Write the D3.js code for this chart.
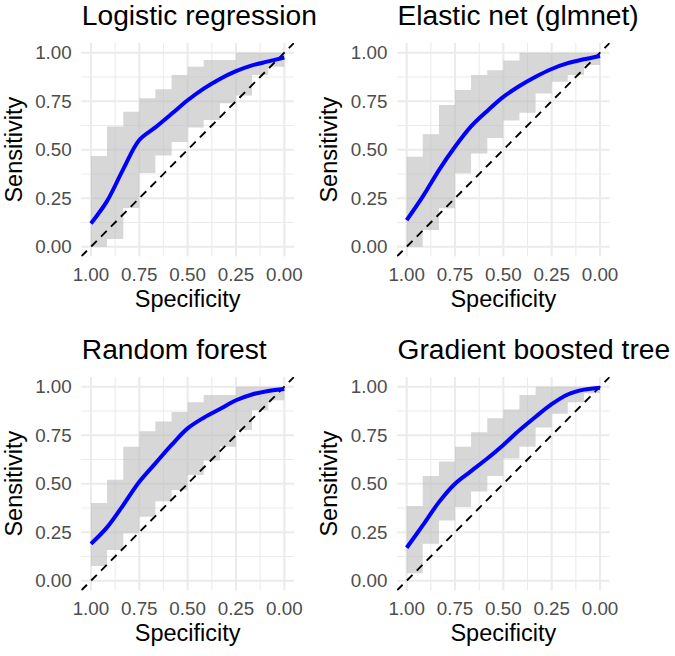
<!DOCTYPE html>
<html>
<head>
<meta charset="utf-8">
<script src="https://cdn.jsdelivr.net/npm/d3@7"></script>
<style>
  html, body { margin: 0; padding: 0; background: #fff; }
  svg { display: block; font-family: "Liberation Sans", Arial, Helvetica, sans-serif; }
</style>
</head>
<body>
<svg id="chart" width="675" height="656"></svg>
<script>
// ---- data ----
const models = ["Logistic regression", "Elastic net (glmnet)", "Random forest", "Gradient boosted tree"];
const specSteps = [1, 0.917, 0.833, 0.75, 0.667, 0.583, 0.5, 0.417, 0.333, 0.25, 0.167, 0.083, 0];
const tickValues = [1, 0.75, 0.5, 0.25, 0];
const tickLabels = ["1.00", "0.75", "0.50", "0.25", "0.00"];
const minorTicks = [0.125, 0.375, 0.625, 0.875];

// CI ribbon (per specificity interval) and smoothed ROC sensitivity
const lrUpper = [0.467, 0.619, 0.696, 0.765, 0.811, 0.885, 0.928, 0.962, 0.962, 1, 1, 1];
const lrLower = [0.00, 0.04, 0.20, 0.38, 0.47, 0.54, 0.615, 0.653, 0.739, 0.78, 0.885, 0.928];
const lrSens  = [0.12, 0.235, 0.40, 0.55, 0.615, 0.685, 0.755, 0.815, 0.865, 0.905, 0.935, 0.955, 0.975];

const enUpper = [0.464, 0.579, 0.730, 0.808, 0.885, 0.91, 0.96, 1, 1, 1, 1, 1];
const enLower = [0.00, 0.086, 0.198, 0.378, 0.48, 0.56, 0.65, 0.69, 0.79, 0.85, 0.885, 0.936];
const enSens  = [0.137, 0.258, 0.395, 0.515, 0.62, 0.70, 0.772, 0.828, 0.876, 0.916, 0.946, 0.966, 0.983];

const rfUpper = [0.40, 0.52, 0.69, 0.77, 0.82, 0.87, 0.92, 0.957, 0.957, 1, 1, 1];
const rfLower = [0.076, 0.158, 0.244, 0.33, 0.41, 0.467, 0.545, 0.62, 0.69, 0.777, 0.88, 0.93];
const rfSens  = [0.19, 0.275, 0.39, 0.51, 0.605, 0.70, 0.785, 0.84, 0.885, 0.93, 0.96, 0.978, 0.988];

const gbUpper = [0.385, 0.54, 0.614, 0.691, 0.765, 0.837, 0.883, 0.957, 1, 1, 1, 1];
const gbLower = [0.038, 0.19, 0.31, 0.38, 0.46, 0.54, 0.63, 0.69, 0.79, 0.86, 0.92, 0.966];
const gbSens  = [0.17, 0.285, 0.405, 0.50, 0.565, 0.63, 0.70, 0.775, 0.845, 0.91, 0.96, 0.985, 0.995];

const uppers = [lrUpper, enUpper, rfUpper, gbUpper];
const lowers = [lrLower, enLower, rfLower, gbLower];
const senses = [lrSens, enSens, rfSens, gbSens];

// ---- layout ----
const svg = d3.select("#chart");
const colLeft = [81.3, 397];
const rowTop = [43, 377];
const pw = 212.7, ph = 213.4;
const gridColor = "#EBEBEB";

models.forEach((name, i) => {
  const left = colLeft[i % 2], top = rowTop[Math.floor(i / 2)];
  const x = d3.scaleLinear().domain([1.05, -0.05]).range([left, left + pw]);
  const y = d3.scaleLinear().domain([-0.05, 1.05]).range([top + ph, top]);
  const g = svg.append("g");

  const clipId = "clip" + i;
  svg.append("clipPath").attr("id", clipId)
    .append("rect").attr("x", left).attr("y", top).attr("width", pw).attr("height", ph);

  // grid
  const grid = g.append("g");
  minorTicks.forEach(v => {
    grid.append("line").attr("x1", x(v)).attr("x2", x(v)).attr("y1", top).attr("y2", top + ph)
      .attr("stroke", gridColor).attr("stroke-width", 1.1);
    grid.append("line").attr("y1", y(v)).attr("y2", y(v)).attr("x1", left).attr("x2", left + pw)
      .attr("stroke", gridColor).attr("stroke-width", 1.1);
  });
  tickValues.forEach(v => {
    grid.append("line").attr("x1", x(v)).attr("x2", x(v)).attr("y1", top).attr("y2", top + ph)
      .attr("stroke", gridColor).attr("stroke-width", 2.1);
    grid.append("line").attr("y1", y(v)).attr("y2", y(v)).attr("x1", left).attr("x2", left + pw)
      .attr("stroke", gridColor).attr("stroke-width", 2.1);
  });

  // ribbon
  const up = uppers[i], lo = lowers[i];
  const ribbonData = specSteps.map((s, k) => ({
    s, u: up[Math.min(k, up.length - 1)], l: lo[Math.min(k, lo.length - 1)]
  }));
  g.append("path")
    .datum(ribbonData)
    .attr("d", d3.area().curve(d3.curveStepAfter)
      .x(d => x(d.s)).y0(d => y(d.l)).y1(d => y(d.u)))
    .attr("fill", "#BEBEBE").attr("fill-opacity", 0.62);

  // diagonal reference
  g.append("line")
    .attr("clip-path", `url(#${clipId})`)
    .attr("x1", x(1.05)).attr("y1", y(-0.05)).attr("x2", x(-0.05)).attr("y2", y(1.05))
    .attr("stroke", "#000").attr("stroke-width", 1.9).attr("stroke-dasharray", "8,6");

  // smoothed ROC
  const lineData = specSteps.map((s, k) => ({ s, v: senses[i][k] }));
  g.append("path")
    .datum(lineData)
    .attr("d", d3.line().curve(d3.curveCatmullRom.alpha(0.5)).x(d => x(d.s)).y(d => y(d.v)))
    .attr("fill", "none").attr("stroke", "#0000FF").attr("stroke-width", 4);

  // axes tick labels
  tickValues.forEach((v, k) => {
    g.append("text").attr("x", x(v)).attr("y", top + ph + 24.6)
      .attr("text-anchor", "middle").attr("font-size", 18.8).attr("fill", "#4D4D4D")
      .text(tickLabels[k]);
    g.append("text").attr("x", left - 9.6).attr("y", y(v)).attr("dy", "0.36em")
      .attr("text-anchor", "end").attr("font-size", 18.8).attr("fill", "#4D4D4D")
      .text(tickLabels[k]);
  });

  // axis titles
  g.append("text").attr("x", left + pw / 2).attr("y", top + ph + 50.3)
    .attr("text-anchor", "middle").attr("font-size", 23.5).attr("fill", "#000")
    .text("Specificity");
  g.append("text")
    .attr("transform", `translate(${left - 59.6},${top + ph / 2}) rotate(-90)`)
    .attr("text-anchor", "middle").attr("font-size", 23.5).attr("fill", "#000")
    .text("Sensitivity");

  // title
  g.append("text").attr("x", left + 0.5).attr("y", top - 17.8)
    .attr("font-size", 28.2).attr("fill", "#000").text(name);
});
</script>
</body>
</html>
